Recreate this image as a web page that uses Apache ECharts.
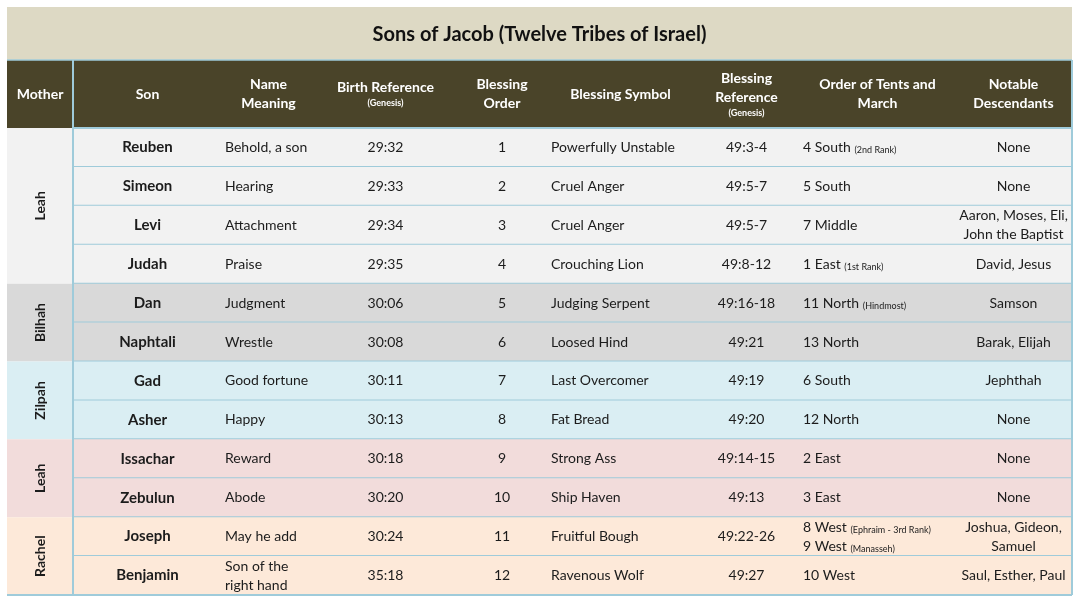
<!DOCTYPE html>
<html>
<head>
<meta charset="utf-8">
<script src="https://cdn.jsdelivr.net/npm/echarts@6/dist/echarts.min.js"></script>
<style>
html,body{margin:0;padding:0;background:#ffffff;}
#chart{width:1079px;height:600px;}
</style>
</head>
<body>
<div id="chart"></div>
<script>
// ---------- DATA ----------
const TITLE = 'Sons of Jacob (Twelve Tribes of Israel)';
const headers = ['Mother', 'Son', 'Name\nMeaning', 'Birth Reference\n(Genesis)', 'Blessing\nOrder',
  'Blessing Symbol', 'Blessing\nReference\n(Genesis)', 'Order of Tents and\nMarch', 'Notable\nDescendants'];
const mothers = ['Leah', 'Leah', 'Leah', 'Leah', 'Bilhah', 'Bilhah', 'Zilpah', 'Zilpah', 'Leah', 'Leah', 'Rachel', 'Rachel'];
const sons = ['Reuben', 'Simeon', 'Levi', 'Judah', 'Dan', 'Naphtali', 'Gad', 'Asher', 'Issachar', 'Zebulun', 'Joseph', 'Benjamin'];
const meanings = ['Behold, a son', 'Hearing', 'Attachment', 'Praise', 'Judgment', 'Wrestle', 'Good fortune', 'Happy',
  'Reward', 'Abode', 'May he add', 'Son of the\nright hand'];
const birthRefs = ['29:32', '29:33', '29:34', '29:35', '30:06', '30:08', '30:11', '30:13', '30:18', '30:20', '30:24', '35:18'];
const blessingOrder = [1, 2, 3, 4, 5, 6, 7, 8, 9, 10, 11, 12];
const symbols = ['Powerfully Unstable', 'Cruel Anger', 'Cruel Anger', 'Crouching Lion', 'Judging Serpent', 'Loosed Hind',
  'Last Overcomer', 'Fat Bread', 'Strong Ass', 'Ship Haven', 'Fruitful Bough', 'Ravenous Wolf'];
const blessingRefs = ['49:3-4', '49:5-7', '49:5-7', '49:8-12', '49:16-18', '49:21', '49:19', '49:20', '49:14-15', '49:13', '49:22-26', '49:27'];
const tents = ['4 South (2nd Rank)', '5 South', '7 Middle', '1 East (1st Rank)', '11 North (Hindmost)', '13 North', '6 South',
  '12 North', '2 East', '3 East', '8 West (Ephraim - 3rd Rank)\n9 West (Manasseh)', '10 West'];
const descendants = ['None', 'None', 'Aaron, Moses, Eli,\nJohn the Baptist', 'David, Jesus', 'Samson', 'Barak, Elijah',
  'Jephthah', 'None', 'None', 'None', 'Joshua, Gideon,\nSamuel', 'Saul, Esther, Paul'];

// ---------- LAYOUT / STYLE ----------
const COL_W = [66, 149, 93, 141, 92, 145, 107, 155, 117];
const COL_ALIGN = ['center', 'center', 'left', 'center', 'center', 'left', 'center', 'left', 'center'];
const TITLE_H = 53, HEAD_H = 68, ROW_H = 467 / 12;
const W = COL_W.reduce((a, b) => a + b, 0);
const H = TITLE_H + HEAD_H + sons.length * ROW_H;
const GROUP_COLORS = ['#F2F2F2', '#D9D9D9', '#DAEEF3', '#F2DCDB', '#FDE9D9'];
const TITLE_BG = '#DDD9C4', HEAD_BG = '#4A4429', RULE = '#9FCBDA';
const FONT = 'Lato, "Open Sans", sans-serif';
const TXT = '#1c1c1c';

function colEdge(i) { let s = 0; for (let k = 0; k < i; k++) s += COL_W[k]; return s; }
function rowTop(i) { return TITLE_H + HEAD_H + i * ROW_H; }
function small(s) { return String(s).replace(/\(([^)]*)\)/g, '{s|($1)}'); }

// mother groups (merged cells)
const groups = [];
mothers.forEach((m, i) => {
  const g = groups[groups.length - 1];
  if (g && g.name === m && g.end === i - 1) g.end = i; else groups.push({ name: m, start: i, end: i });
});
const rowGroup = [];
groups.forEach((g, gi) => { for (let i = g.start; i <= g.end; i++) rowGroup[i] = gi; });

const columns = [null, sons, meanings, birthRefs, blessingOrder, symbols, blessingRefs, tents, descendants];

const chart = echarts.init(document.getElementById('chart'), null, { renderer: 'canvas' });

function rectFrom(api, x0, y0, x1, y1) {
  const a = api.coord([x0, y0]), b = api.coord([x1, y1]);
  return { x: a[0], y: a[1], width: b[0] - a[0], height: b[1] - a[1] };
}
function line(api, x0, y0, x1, y1, w) {
  const a = api.coord([x0, y0]), b = api.coord([x1, y1]);
  return { type: 'line', shape: { x1: a[0], y1: a[1], x2: b[0], y2: b[1] }, style: { stroke: RULE, lineWidth: w || 2 } };
}

const option = {
  backgroundColor: '#ffffff',
  animation: false,
  grid: { left: 7, right: 7, top: 7, bottom: 5, containLabel: false },
  xAxis: { type: 'value', min: 0, max: W, show: false },
  yAxis: { type: 'value', min: 0, max: H, inverse: true, show: false },
  series: [
    { // title band + header
      type: 'custom', coordinateSystem: 'cartesian2d', silent: true,
      data: [[0, 0]],
      renderItem: function (params, api) {
        const ch = [];
        ch.push({ type: 'rect', shape: rectFrom(api, 0, 0, W, TITLE_H), style: { fill: TITLE_BG } });
        const tc = api.coord([W / 2, TITLE_H / 2 + 1]);
        ch.push({ type: 'text', style: { text: TITLE, x: tc[0], y: tc[1], align: 'center', verticalAlign: 'middle',
          font: 'bold 20px ' + FONT, fill: '#111111' } });
        ch.push({ type: 'rect', shape: rectFrom(api, 0, TITLE_H, W, TITLE_H + HEAD_H), style: { fill: HEAD_BG } });
        headers.forEach((h, c) => {
          const p = api.coord([colEdge(c) + COL_W[c] / 2, TITLE_H + HEAD_H / 2]);
          ch.push({ type: 'text', style: { text: small(h), x: p[0], y: p[1], align: 'center', verticalAlign: 'middle',
            fontFamily: FONT, fontSize: 14, fontWeight: 'bold', lineHeight: 19, fill: '#ffffff',
            rich: { s: { fontSize: 9, fontWeight: 'bold', lineHeight: 13, fill: '#ffffff', fontFamily: FONT } } } });
        });
        return { type: 'group', children: ch };
      }
    },
    { // body rows
      type: 'custom', coordinateSystem: 'cartesian2d', silent: true,
      data: sons.map((s, i) => [i, i]),
      renderItem: function (params, api) {
        const i = api.value(0);
        const ch = [];
        const y0 = rowTop(i), y1 = rowTop(i + 1);
        ch.push({ type: 'rect', shape: rectFrom(api, colEdge(1), y0, W, y1), style: { fill: GROUP_COLORS[rowGroup[i]] } });
        for (let c = 1; c < columns.length; c++) {
          const al = COL_ALIGN[c];
          const x = al === 'left' ? colEdge(c) + 3 : colEdge(c) + COL_W[c] / 2;
          const p = api.coord([x, (y0 + y1) / 2]);
          const bold = c === 1;
          ch.push({ type: 'text', style: { text: small(columns[c][i]), x: p[0], y: p[1], align: al, verticalAlign: 'middle',
            fontFamily: FONT, fontSize: bold ? 15 : 14, fontWeight: bold ? 'bold' : 'normal', lineHeight: 19, fill: TXT,
            rich: { s: { fontSize: 9, padding: [5, 0, 0, 0], fill: TXT, fontFamily: FONT } } } });
        }
        ch.push(line(api, colEdge(1), y1, W, y1, 2));
        return { type: 'group', children: ch };
      }
    },
    { // merged mother cells
      type: 'custom', coordinateSystem: 'cartesian2d', silent: true,
      data: groups.map((g, gi) => [g.start, g.end, gi]),
      renderItem: function (params, api) {
        const s = api.value(0), e = api.value(1), gi = api.value(2);
        const g = groups[gi];
        const y0 = rowTop(s), y1 = rowTop(e + 1);
        const p = api.coord([COL_W[0] / 2, (y0 + y1) / 2]);
        return { type: 'group', children: [
          { type: 'rect', shape: rectFrom(api, 0, y0, COL_W[0], y1), style: { fill: GROUP_COLORS[gi] } },
          { type: 'text', x: p[0], y: p[1], rotation: Math.PI / 2,
            style: { text: g.name, x: 0, y: 0, align: 'center', verticalAlign: 'middle',
              font: 'bold 14px ' + FONT, fill: TXT } }
        ] };
      }
    },
    { // frame rules
      type: 'custom', coordinateSystem: 'cartesian2d', silent: true,
      data: [[0, 0]],
      renderItem: function (params, api) {
        return { type: 'group', children: [
          line(api, 0, TITLE_H, W, TITLE_H, 1.5),
          line(api, colEdge(1), TITLE_H + HEAD_H, W, TITLE_H + HEAD_H, 2),
          line(api, colEdge(1), TITLE_H, colEdge(1), H, 2),
          line(api, W, TITLE_H, W, H, 2),
          line(api, 0, H, W, H, 2)
        ] };
      }
    }
  ]
};
chart.setOption(option);
</script>
</body>
</html>
